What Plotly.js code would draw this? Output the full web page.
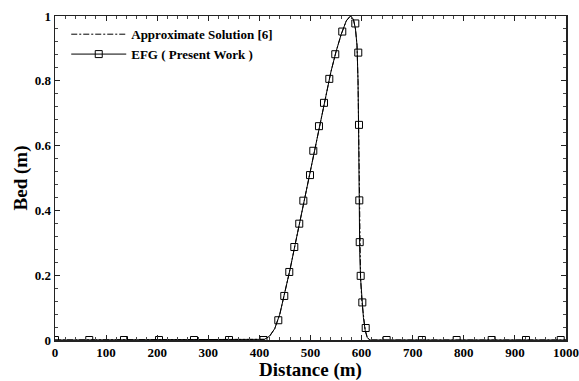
<!DOCTYPE html>
<html>
<head>
<meta charset="utf-8">
<script src="https://cdn.plot.ly/plotly-3.0.1.min.js"></script>
<style>html,body{margin:0;padding:0;background:#fff}#chart{width:579px;height:381px}</style>
</head>
<body>
<div id="chart"></div>
<script>
// Approximate Solution [6] curve
var approxX = [0, 400, 410, 420, 430, 440, 450, 460, 470, 480, 490, 500, 510, 520, 530, 540, 550, 560, 570, 578, 584, 588, 591, 593, 594.5, 595.5, 596.5, 598, 600.5, 603.5, 607, 611, 616, 1000];
var approxY = [0, 0, 0.002, 0.012, 0.035, 0.08, 0.145, 0.218, 0.295, 0.372, 0.452, 0.525, 0.6, 0.68, 0.755, 0.828, 0.89, 0.943, 0.985, 1.0, 0.99, 0.96, 0.91, 0.8, 0.62, 0.42, 0.27, 0.19, 0.12, 0.07, 0.03, 0.008, 0, 0];
// EFG (Present Work) curve
var efgX = [0, 400, 410, 420, 430, 440, 450, 460, 470, 480, 490, 500, 510, 520, 530, 540, 550, 560, 570, 578, 584, 588, 591, 593, 594.3, 595.3, 596.3, 598, 600.5, 603.5, 607, 611, 616, 1000];
var efgY = [0, 0, 0.002, 0.012, 0.035, 0.08, 0.145, 0.218, 0.295, 0.372, 0.452, 0.525, 0.6, 0.68, 0.755, 0.828, 0.89, 0.943, 0.985, 1.0, 0.99, 0.96, 0.91, 0.8, 0.62, 0.42, 0.27, 0.19, 0.12, 0.07, 0.03, 0.008, 0, 0];
// EFG marker positions
var markX = [0, 67, 135, 203.5, 272, 340.5, 408, 437, 448.7, 458.5, 468.3, 478, 486, 499, 505.5, 516.6, 526.4, 536.8, 548.5, 562.2, 587.7, 593.5, 594.9, 595.5, 596.3, 598.2, 601.4, 608, 649, 718, 786, 854.6, 921.7, 989.6];
var markY = [0, 0, 0, 0, 0, 0, 0, 0.061, 0.136, 0.210, 0.287, 0.359, 0.430, 0.509, 0.584, 0.660, 0.732, 0.806, 0.882, 0.952, 0.977, 0.887, 0.664, 0.431, 0.302, 0.198, 0.116, 0.037, 0, 0, 0, 0, 0, 0];

var xTicks = [0, 100, 200, 300, 400, 500, 600, 700, 800, 900, 1000];
var yTicks = [0, 0.2, 0.4, 0.6, 0.8, 1];

var serif = 'Liberation Serif, Times New Roman, serif';

var traces = [
  {x: efgX, y: efgY, mode: 'lines', line: {color: '#000', width: 1}, showlegend: false, hoverinfo: 'skip'},
  {x: approxX, y: approxY, mode: 'lines', name: 'Approximate Solution [6]',
   line: {color: '#000', width: 1, dash: '6px,2px,2px,2px'}},
  {x: markX, y: markY, mode: 'markers', showlegend: false,
   marker: {symbol: 'square-open', size: 7, color: '#000', line: {width: 1, color: '#000'}}},
  {x: [null], y: [null], mode: 'lines+markers', name: 'EFG ( Present Work )',
   line: {color: '#000', width: 1},
   marker: {symbol: 'square-open', size: 7, color: '#000', line: {width: 1, color: '#000'}}}
];

var axisCommon = {
  showgrid: false, zeroline: false, showline: true, linecolor: '#222', linewidth: 1.5,
  mirror: 'ticks', ticks: 'inside', ticklen: 5, tickwidth: 1, tickcolor: '#222',
  tickfont: {family: serif, size: 13, color: '#000', weight: 'bold'}
};

var layout = {
  width: 579, height: 381,
  margin: {l: 55, r: 13, t: 16, b: 41},
  paper_bgcolor: '#fff', plot_bgcolor: '#fff',
  font: {family: serif, color: '#000'},
  xaxis: Object.assign({}, axisCommon, {
    range: [0, 1000], tickvals: xTicks, ticktext: xTicks.map(String),
    minor: {dtick: 20, tick0: 0, ticks: 'inside', ticklen: 3, tickcolor: '#444', tickwidth: 1},
    title: {text: 'Distance (m)', font: {family: serif, size: 19, weight: 'bold', color: '#000'}, standoff: 1}
  }),
  yaxis: Object.assign({}, axisCommon, {
    range: [0, 1.0], tickvals: yTicks, ticktext: yTicks.map(String),
    minor: {dtick: 0.04, tick0: 0, ticks: 'inside', ticklen: 3, tickcolor: '#444', tickwidth: 1},
    title: {text: 'Bed (m)', font: {family: serif, size: 19, weight: 'bold', color: '#000'}, standoff: 2}
  }),
  legend: {x: 0.022, y: 0.99, xanchor: 'left', yanchor: 'top', bgcolor: 'rgba(0,0,0,0)',
    font: {family: serif, size: 13, weight: 'bold', color: '#000'}, itemwidth: 55, tracegroupgap: 0},
  showlegend: true
};

Plotly.newPlot('chart', traces, layout, {staticPlot: true, displayModeBar: false});
</script>
</body>
</html>
